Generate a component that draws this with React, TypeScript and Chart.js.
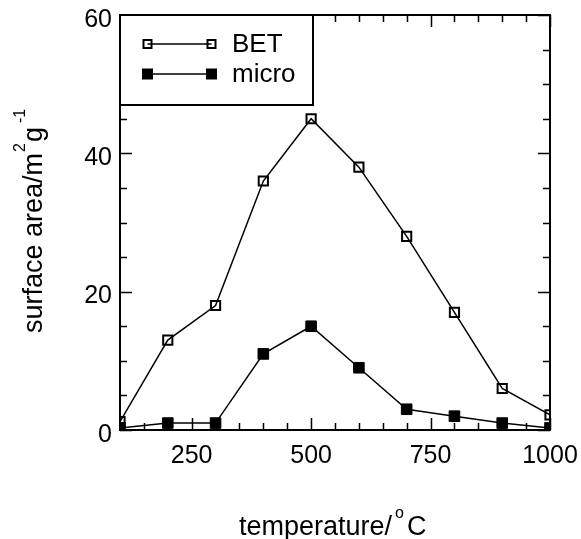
import React, { useEffect, useRef } from 'react';
import { Chart, registerables } from 'chart.js';

Chart.register(...registerables);

// ---- data ----
const TEMPERATURES = [100, 200, 300, 400, 500, 600, 700, 800, 900, 1000];
const BET_AREA = [1.2, 13, 18, 36, 45, 38, 28, 17, 6, 2.2];
const MICRO_AREA = [0.3, 1, 1, 11, 15, 9, 3, 2, 1, 0.3];

const X_MIN = 100;
const X_MAX = 1000;
const X_MINOR_STEP = 50;
const X_TICK_LABELS = [250, 500, 750, 1000];

const Y_MIN = 0;
const Y_MAX = 60;
const Y_MINOR_STEP = 5;
const Y_TICK_LABELS = [0, 20, 40, 60];

const SERIES_NAMES = ['BET', 'micro'];

const FONT = '"Liberation Sans", Arial, Helvetica, sans-serif';

export default function App() {
  const ref = useRef<HTMLCanvasElement | null>(null);

  useEffect(() => {
    const canvas = ref.current;
    if (!canvas) return;

    const framePlugin = {
      id: 'framePlugin',
      afterDraw(chart: any) {
        const ctx: CanvasRenderingContext2D = chart.ctx;
        const xs = chart.scales.x;
        const ys = chart.scales.y;
        const { left, right, top, bottom } = chart.chartArea;
        ctx.save();
        ctx.strokeStyle = '#000';
        ctx.fillStyle = '#000';
        ctx.lineCap = 'butt';

        // inward ticks
        ctx.lineWidth = 1.5;
        for (let v = X_MIN; v <= X_MAX + 1e-9; v += X_MINOR_STEP) {
          const px = Math.round(xs.getPixelForValue(v)) + 0.5;
          const len = X_TICK_LABELS.includes(v) ? 12 : 7;
          ctx.beginPath();
          ctx.moveTo(px, bottom);
          ctx.lineTo(px, bottom - len);
          ctx.moveTo(px, top);
          ctx.lineTo(px, top + len);
          ctx.stroke();
        }
        for (let v = Y_MIN; v <= Y_MAX + 1e-9; v += Y_MINOR_STEP) {
          const py = Math.round(ys.getPixelForValue(v)) + 0.5;
          const len = Y_TICK_LABELS.includes(v) ? 12 : 7;
          ctx.beginPath();
          ctx.moveTo(left, py);
          ctx.lineTo(left + len, py);
          ctx.moveTo(right, py);
          ctx.lineTo(right - len, py);
          ctx.stroke();
        }

        // legend box
        const lbRight = 313;
        const lbBottom = 105;
        ctx.fillStyle = '#fff';
        ctx.fillRect(left, top, lbRight - left, lbBottom - top);
        ctx.lineWidth = 2;
        ctx.strokeRect(left, top, lbRight - left, lbBottom - top);

        // legend entries
        const rows = [44, 74];
        const x1 = 147.5;
        const x2 = 211.5;
        rows.forEach((ry, i) => {
          ctx.strokeStyle = '#000';
          ctx.lineWidth = 1.5;
          ctx.beginPath();
          ctx.moveTo(x1, ry);
          ctx.lineTo(x2, ry);
          ctx.stroke();
          [x1, x2].forEach((mx) => {
            if (i === 0) {
              const s = 8;
              ctx.lineWidth = 2;
              ctx.strokeRect(mx - s / 2, ry - s / 2, s, s);
            } else {
              const s = 11;
              ctx.fillStyle = '#000';
              ctx.fillRect(mx - s / 2, ry - s / 2, s, s);
            }
          });
          ctx.fillStyle = '#000';
          ctx.font = `26px ${FONT}`;
          ctx.textAlign = 'left';
          ctx.textBaseline = 'middle';
          ctx.fillText(SERIES_NAMES[i], 232, ry + 1);
        });

        // frame
        ctx.strokeStyle = '#000';
        ctx.lineWidth = 2;
        ctx.strokeRect(left, top, right - left, bottom - top);

        // tick labels
        ctx.fillStyle = '#000';
        ctx.font = `25px ${FONT}`;
        ctx.textBaseline = 'alphabetic';
        ctx.textAlign = 'right';
        Y_TICK_LABELS.forEach((v) => {
          const py = ys.getPixelForValue(v);
          ctx.fillText(String(v), 112, py + 11.5);
        });
        ctx.textAlign = 'center';
        X_TICK_LABELS.forEach((v) => {
          const px = xs.getPixelForValue(v);
          ctx.fillText(String(v), px, 463);
        });

        // x axis title: temperature/°C
        {
          const big = `27px ${FONT}`;
          const small = `16px ${FONT}`;
          ctx.textAlign = 'left';
          ctx.font = big;
          const w1 = ctx.measureText('temperature/').width;
          ctx.font = small;
          const w2 = ctx.measureText('o').width;
          const base = 535;
          let x = 239;
          ctx.font = big;
          ctx.fillText('temperature/', x, base);
          x += w1 + 3;
          ctx.font = small;
          ctx.fillText('o', x, base - 17);
          x += w2 + 3;
          ctx.font = big;
          ctx.fillText('C', x, base);
        }

        // y axis title: surface area/m²g⁻¹ (rotated)
        {
          const big = `27px ${FONT}`;
          const small = `16px ${FONT}`;
          ctx.save();
          ctx.translate(42, 333);
          ctx.rotate(-Math.PI / 2);
          ctx.textAlign = 'left';
          const parts: [string, boolean, number][] = [
            ['surface area/m', false, 0],
            ['2', true, 1],
            ['g', false, 1],
            ['-1', true, 4],
          ];
          let u = 0;
          parts.forEach(([t, sup, gap]) => {
            u += gap;
            ctx.font = sup ? small : big;
            ctx.fillText(t, u, sup ? -17 : 0);
            u += ctx.measureText(t).width;
          });
          ctx.restore();
        }

        ctx.restore();
      },
    };

    const chart = new Chart(canvas, {
      type: 'line',
      data: {
        datasets: [
          {
            label: SERIES_NAMES[0],
            data: TEMPERATURES.map((t, i) => ({ x: t, y: BET_AREA[i] })),
            borderColor: '#000',
            borderWidth: 1.5,
            pointStyle: 'rect',
            pointRadius: 6.5,
            pointBorderWidth: 2,
            pointBorderColor: '#000',
            pointBackgroundColor: 'rgba(0,0,0,0)',
            tension: 0,
            clip: 0,
          },
          {
            label: SERIES_NAMES[1],
            data: TEMPERATURES.map((t, i) => ({ x: t, y: MICRO_AREA[i] })),
            borderColor: '#000',
            borderWidth: 1.5,
            pointStyle: 'rect',
            pointRadius: 7.5,
            pointBorderWidth: 1,
            pointBorderColor: '#000',
            pointBackgroundColor: '#000',
            tension: 0,
            clip: 0,
          },
        ],
      },
      options: {
        responsive: false,
        animation: false,
        devicePixelRatio: 1,
        layout: { padding: { left: 120, top: 15, right: 31, bottom: 109 } },
        plugins: {
          legend: { display: false },
          title: { display: false },
          tooltip: { enabled: false },
        },
        scales: {
          x: { type: 'linear', min: X_MIN, max: X_MAX, display: false },
          y: { type: 'linear', min: Y_MIN, max: Y_MAX, display: false },
        },
      },
      plugins: [framePlugin],
    } as any);

    return () => {
      chart.destroy();
    };
  }, []);

  return (
    <div style={{ position: 'absolute', left: 0, top: 0, width: 581, height: 539, background: '#fff' }}>
      <canvas ref={ref} width={581} height={539} style={{ display: 'block', width: 581, height: 539 }} />
    </div>
  );
}
